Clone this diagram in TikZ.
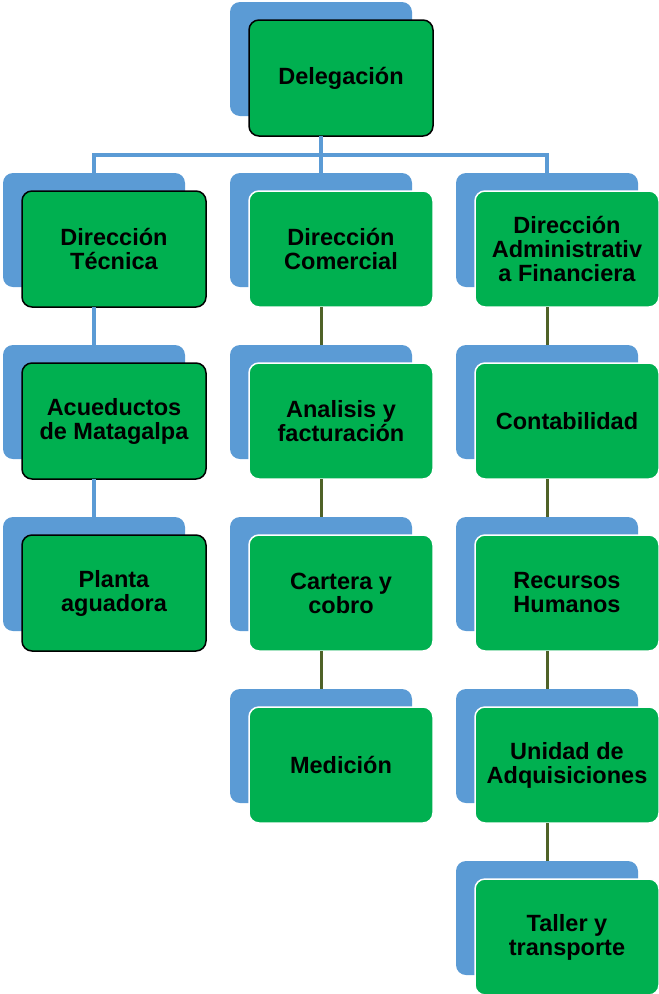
\documentclass[tikz,border=0pt]{standalone}
\usepackage{fontspec}
\setmainfont{Liberation Sans}
\usepackage{xcolor}
\definecolor{cardgreen}{RGB}{0,176,80}
\definecolor{backblue}{RGB}{91,155,213}
\definecolor{linkgreen}{RGB}{79,98,40}

\begin{document}
\begin{tikzpicture}[x=1pt, y=-1pt,
    back/.style = {rectangle, rounded corners=10pt, fill=backblue,
                minimum width=182pt, minimum height=114pt,
                anchor=north west, inner sep=0pt, outer sep=0pt},
    card/.style = {rectangle, rounded corners=10pt, fill=cardgreen,
                draw=#1, line width=1.5pt,
                minimum width=184pt, minimum height=116pt,
                anchor=north west, inner sep=2pt, outer sep=0pt,
                align=center,
                font=\fontsize{23.5}{24}\selectfont\bfseries},
    card/.default = white,  % border colour of the green box
    blueline/.style = {draw=backblue, line width=4pt},
    greenline/.style = {draw=linkgreen, line width=3pt}
                    ]
    \useasboundingbox (0,0) rectangle (659,994);
    \def\dx{19}
    \def\dy{18}
    \def\ax{3}
    \def\bx{230}
    \def\cx{456}
    \def\ra{173}
    \def\rb{345}
    \def\rc{517}
    \def\rd{689}
    \def\re{861}
    % top
    \node[back] at (\bx,2) (dback) {};
    \node[card=black] at (\bx+\dx,2+\dy) (dele) {Delegación};
    % left column
    \node[back] at (\ax,\ra) (tback1) {};
    \node[card=black] at (\ax+\dx,\ra+\dy) (tecnica) {Dirección\\Técnica};
    \node[back] at (\ax,\rb) (tback2) {};
    \node[card=black] at (\ax+\dx,\rb+\dy) (acueductos) {Acueductos\\de Matagalpa};
    \node[back] at (\ax,\rc) (tback3) {};
    \node[card=black] at (\ax+\dx,\rc+\dy) (planta) {Planta\\aguadora};
    % middle column
    \node[back] at (\bx,\ra) (cback1) {};
    \node[card] at (\bx+\dx,\ra+\dy) (comercial) {Dirección\\Comercial};
    \node[back] at (\bx,\rb) (cback2) {};
    \node[card] at (\bx+\dx,\rb+\dy) (analisis) {Analisis y\\facturación};
    \node[back] at (\bx,\rc) (cback3) {};
    \node[card] at (\bx+\dx,\rc+\dy) (cartera) {Cartera y\\cobro};
    \node[back] at (\bx,\rd) (cback4) {};
    \node[card] at (\bx+\dx,\rd+\dy) (medicion) {Medición};
    % right column
    \node[back] at (\cx,\ra) (fback1) {};
    \node[card] at (\cx+\dx,\ra+\dy) (financiera) {Dirección\\Administrativ\\a Financiera};
    \node[back] at (\cx,\rb) (fback2) {};
    \node[card] at (\cx+\dx,\rb+\dy) (contabilidad) {Contabilidad};
    \node[back] at (\cx,\rc) (fback3) {};
    \node[card] at (\cx+\dx,\rc+\dy) (recursos) {Recursos\\Humanos};
    \node[back] at (\cx,\rd) (fback4) {};
    \node[card] at (\cx+\dx,\rd+\dy) (adquisiciones) {Unidad de\\Adquisiciones};
    \node[back] at (\cx,\re) (fback5) {};
    \node[card] at (\cx+\dx,\re+\dy) (taller) {Taller y\\transporte};
    % connectors
    \coordinate (bus) at (0,155);
    \draw[blueline] (dback.south |- dele.south) -- (cback1.north);
    \draw[blueline] (tback1.north) -- (tback1.north |- bus)
        -- (fback1.north |- bus) -- (fback1.north);
    \draw[blueline] (tback2.north |- tecnica.south) -- (tback2.north);
    \draw[blueline] (tback3.north |- acueductos.south) -- (tback3.north);
    \draw[greenline] (cback2.north |- comercial.south) -- (cback2.north);
    \draw[greenline] (cback3.north |- analisis.south) -- (cback3.north);
    \draw[greenline] (cback4.north |- cartera.south) -- (cback4.north);
    \draw[greenline] (fback2.north |- financiera.south) -- (fback2.north);
    \draw[greenline] (fback3.north |- contabilidad.south) -- (fback3.north);
    \draw[greenline] (fback4.north |- recursos.south) -- (fback4.north);
    \draw[greenline] (fback5.north |- adquisiciones.south) -- (fback5.north);
\end{tikzpicture}
\end{document}
